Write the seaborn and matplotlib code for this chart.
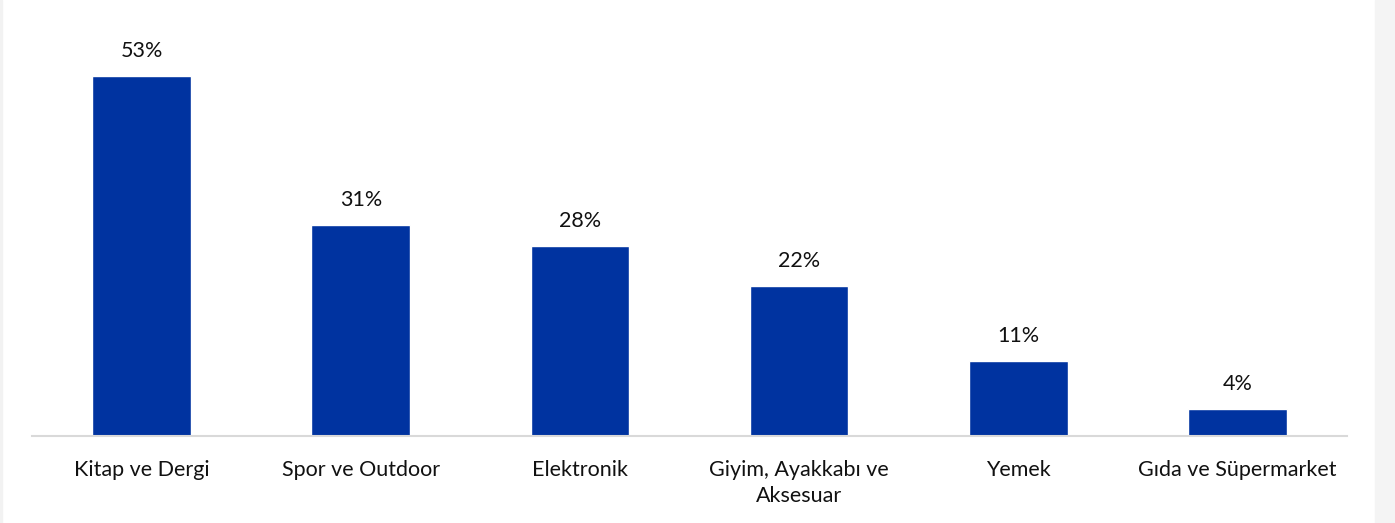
import matplotlib
matplotlib.use("Agg")
import matplotlib.pyplot as plt
import seaborn as sns
import pandas as pd

# values
categories = ["Kitap ve Dergi", "Spor ve Outdoor", "Elektronik",
              "Giyim, Ayakkabı ve\nAksesuar", "Yemek", "Gıda ve Süpermarket"]
values = [53, 31, 28, 22, 11, 4]
value_labels = ["53%", "31%", "28%", "22%", "11%", "4%"]

df = pd.DataFrame({"category": categories, "value": values})

sns.set_theme(style="white")
plt.rcParams["font.family"] = ["Lato", "DejaVu Sans"]

fig = plt.figure(figsize=(13.95, 5.23), dpi=100)
# light grey strips at the edges like the reference
fig.patches.append(plt.Rectangle((0, 0), 2 / 1395, 1, transform=fig.transFigure,
                                 color="#f2f2f2", zorder=0))
fig.patches.append(plt.Rectangle((1375 / 1395, 0), 20 / 1395, 1, transform=fig.transFigure,
                                 color="#f4f4f4", zorder=0))

ax = fig.add_axes([32 / 1395, 87 / 523, 1315 / 1395, 408 / 523])
sns.barplot(data=df, x="category", y="value", color="#0033a0", width=0.45,
            saturation=1, ax=ax)

ax.set_ylim(0, 60)
ax.set_xlim(-0.5, len(categories) - 0.5)
for i, lab in enumerate(value_labels):
    ax.annotate(lab, (i, values[i]), xytext=(0, 18), textcoords="offset points",
                ha="center", va="center", fontsize=15.5, color="#111111")

ax.set_xlabel("")
ax.set_ylabel("")
ax.set_yticks([])
ax.tick_params(axis="x", length=0, pad=17, labelsize=15.5, labelcolor="#111111")
for t in ax.get_xticklabels():
    t.set_linespacing(1.4)
for side in ["top", "right", "left"]:
    ax.spines[side].set_visible(False)
ax.spines["bottom"].set_color("#d9d9d9")
ax.spines["bottom"].set_linewidth(1.5)
ax.patch.set_alpha(0)

fig.savefig("out.png", dpi=100)
